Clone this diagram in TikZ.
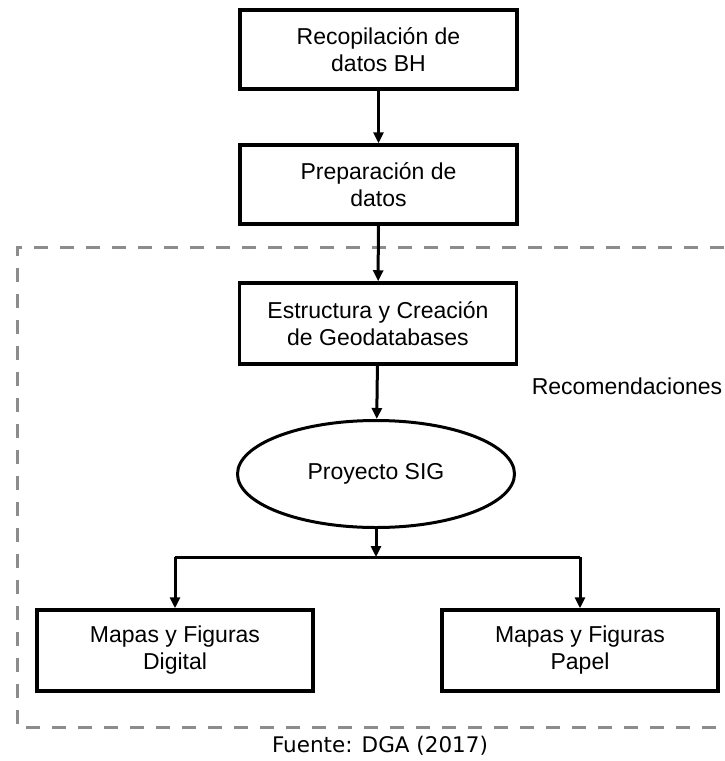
\documentclass[tikz,border=0pt]{standalone}
\usepackage{fontspec}
\setmainfont{Liberation Sans}
\newfontfamily\fuentefont{DejaVu Sans}
\usetikzlibrary{arrows.meta, shapes.geometric, positioning}

\tikzset{
  caja/.style={draw, line width=3.5pt, minimum width=277pt, minimum height=79pt,
    inner sep=0pt, align=center, font=\fontsize{23}{27}\selectfont},
  elipse/.style={draw, ellipse, line width=3pt, minimum width=277pt, minimum height=107pt,
    inner sep=0pt, align=center, font=\fontsize{23}{27}\selectfont},
  flecha/.style={line width=3pt, -{Triangle[length=11pt,width=10pt]}},
  linea/.style={line width=3pt},
  marco/.style={draw=gray!90, line width=3pt, dash pattern=on 14pt off 12pt}
}

\begin{document}
\begin{tikzpicture}[x=1pt, y=-1pt]
\useasboundingbox (0,0) rectangle (724,761);

% zona de recomendaciones
\draw[marco] (724,247) -- (17,247) -- (17,727) -- (724,727);
\node[font=\fontsize{23}{27}\selectfont] (recom) at (627,386) {Recomendaciones};

% cajas del flujo
\node[caja] (datos) at (378.5,49.5) {Recopilación de\\datos BH};
\node[caja] (prep) at (378.5,184.5) {Preparación de\\datos};
\node[caja, minimum height=81pt] (geo) at (378,323.5) {Estructura y Creación\\de Geodatabases};
\node[elipse] (sig) at (376,474) {Proyecto SIG};
\node[caja, minimum width=276pt, minimum height=81pt] (digital) at (175,650.5) {Mapas y Figuras\\Digital};
\node[caja, minimum width=276pt, minimum height=81pt] (papel) at (580,650.5) {Mapas y Figuras\\Papel};

% conectores
\draw[flecha] (datos) -- (prep);
\draw[flecha] (prep) -- (geo);
\draw[flecha] (geo) -- (sig);
\coordinate (split) at (376,557);
\coordinate (splitL) at (175,557);
\coordinate (splitR) at (580,557);
\draw[flecha] (sig) -- (split);
\draw[linea] (splitL) -- (splitR);
\draw[flecha] (splitL) -- (digital);
\draw[flecha] (splitR) -- (papel);

\node[font=\fuentefont\fontsize{21.5}{26}\selectfont] (fuente) at (380,746) {Fuente: DGA (2017)};
\end{tikzpicture}
\end{document}
